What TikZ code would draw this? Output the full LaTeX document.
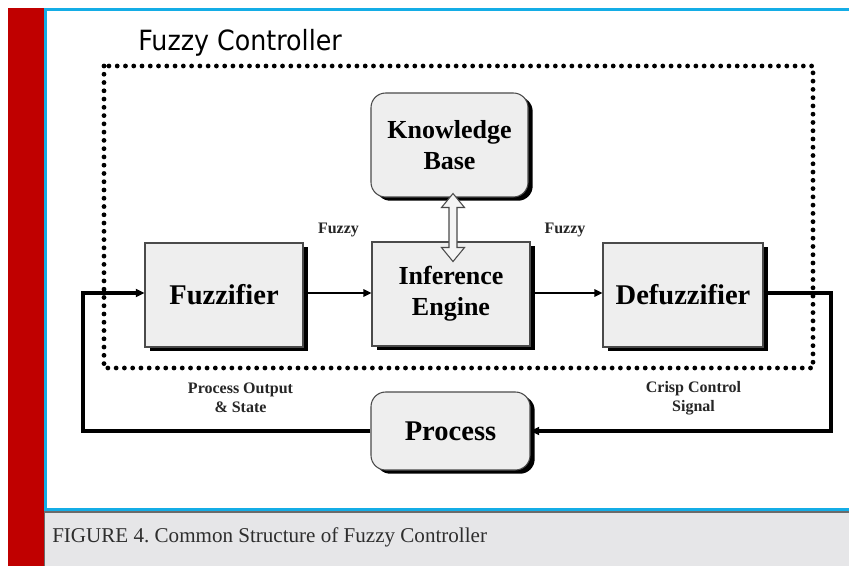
\documentclass[tikz,border=0pt]{standalone}
\usepackage{fontspec}
\setmainfont{Liberation Serif}
\newfontfamily\titlefont{DejaVu Sans}
\usetikzlibrary{arrows.meta,shadows}
\definecolor{barred}{HTML}{C00000}
\definecolor{frameblue}{HTML}{14ADE6}
\definecolor{capgray}{HTML}{E6E6E8}
\definecolor{capline}{HTML}{6B6B6B}
\definecolor{boxfill}{HTML}{EEEEEE}
\definecolor{boxline}{HTML}{4A4A4A}
\definecolor{captext}{HTML}{2E2E2E}
\definecolor{arrowfill}{HTML}{F4F4F4}
\frenchspacing
\begin{document}
\begin{tikzpicture}[x=0.75pt,y=-0.75pt,
  block/.style={draw=boxline, line width=0.8pt, fill=boxfill, inner sep=0pt,
    align=center, text=black,
    drop shadow={shadow xshift=3.5pt, shadow yshift=-2.8pt, opacity=1, fill=black}},
  roundblock/.style={block, rounded corners=11pt},
  bigtext/.style={font=\bfseries\fontsize{21.4pt}{24pt}\selectfont},
  midtext/.style={font=\bfseries\fontsize{19.5pt}{23.3pt}\selectfont},
  smalltext/.style={font=\bfseries\fontsize{12pt}{14.25pt}\selectfont, align=center, text=black!85},
  link/.style={line width=1.6pt, -{Triangle[length=6pt,width=5.5pt]}},
  feedback/.style={line width=2.3pt, -{Triangle[length=6.5pt,width=6pt]}},
  dotframe/.style={line width=3.6pt, dash pattern=on 0pt off 6.2pt, line cap=round}
]
% page, side bar and frame
\useasboundingbox (0,0) rectangle (849,566);
\fill[white] (0,0) rectangle (849,566);
\fill[barred] (8,8) rectangle (44,566);
\fill[capgray] (44,511) rectangle (849,566);
\fill[capline] (44,511) rectangle (849,512.5);
\fill[capline] (44,511) rectangle (45,566);
\fill[frameblue] (44,8) rectangle (849,11);
\fill[frameblue] (44,8) rectangle (47,511);
\fill[frameblue] (44,508) rectangle (849,511);

% title and controller boundary
\node[anchor=base west, inner sep=0pt, yscale=1.1, font=\titlefont\fontsize{19pt}{22pt}\selectfont] (title) at (138,51) {Fuzzy Controller};
\draw[dotframe] (104,66) rectangle (813,368);

% blocks
\node[roundblock, midtext, minimum width=117.75pt, minimum height=78pt] (kb) at (449.5,145) {Knowledge\\Base};
\node[block, bigtext, minimum width=118.5pt, minimum height=78pt] (fuz) at (224,295) {Fuzzifier};
\node[block, midtext, minimum width=118.5pt, minimum height=78pt] (inf) at (451,294) {Inference\\Engine};
\node[block, bigtext, minimum width=120pt, minimum height=78pt] (dfz) at (683,295) {Defuzzifier};
\node[roundblock, bigtext, minimum width=119.25pt, minimum height=58.5pt] (proc) at (450.5,431) {Process};

% signal labels
\node[smalltext] (lf1) at (338.5,230) {Fuzzy};
\node[smalltext] (lf2) at (565,230) {Fuzzy};
\node[smalltext] (lpo) at (240.5,398) {Process Output\\\& State};
\node[smalltext] (lcc) at (693.5,398) {Crisp Control\\Signal};

% connectors
\coordinate (fbl) at (83,293);
\coordinate (fbr) at (831,293);
\draw[link] (fuz.east |- 0,293) -- (inf.west |- 0,293);
\draw[link] (inf.east |- 0,293) -- (dfz.west |- 0,293);
\draw[feedback] (dfz.east |- fbr) -- (fbr) |- (proc.east);
\draw[feedback] (proc.west) -| (fbl) -- (fuz.west |- fbl);

% two-way link between knowledge base and inference engine
\begin{scope}[shift={(kb.south)}]
\draw[draw=boxline, line width=0.8pt, fill=arrowfill]
  (3.5,-4) -- (15,10) -- (7.5,10) -- (7.5,50) -- (15,50) -- (3.5,64)
  -- (-8,50) -- (-0.5,50) -- (-0.5,10) -- (-8,10) -- cycle;
\end{scope}

% caption
\node[anchor=base west, inner sep=0pt, text=captext, font=\fontsize{15.8pt}{19pt}\selectfont] (cap) at (52,542) {FIGURE 4. Common Structure of Fuzzy Controller};
\end{tikzpicture}
\end{document}
